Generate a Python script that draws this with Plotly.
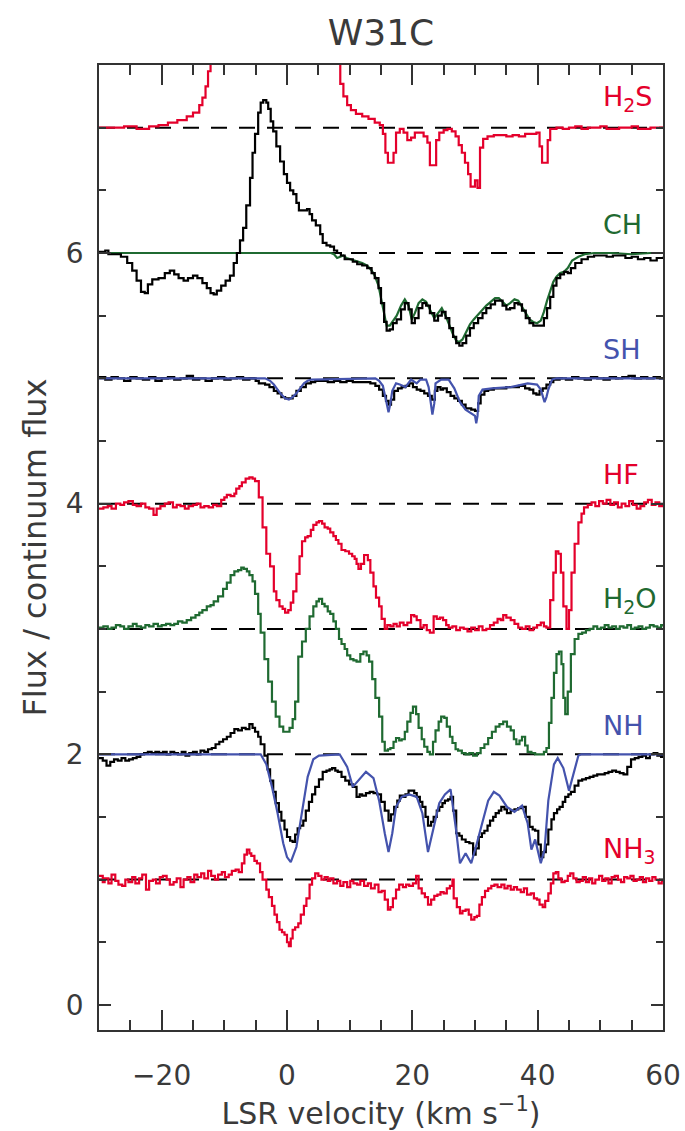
import plotly.graph_objects as go

# ---------------- data (velocity in km/s, flux / continuum + offset) ----------------
v_h2s = [-30, -28, -26, -24, -22, -20.5, -19, -17.5, -16, -15, -14, -13.5, -13, -12.6, -12.2, -11.5,
         7.5, 8.0, 8.5, 9.0, 9.6, 10.2, 11, 12, 13, 14, 14.8, 15.3, 15.7, 16.1, 16.6, 17.0, 17.4, 18.0,
         18.6, 19.2, 19.8, 20.4, 21.0, 21.8, 22.4, 22.8, 23.4, 23.8, 24.3, 25.0, 25.6, 26.3, 26.9, 27.4,
         27.9, 28.4, 28.9, 29.3, 29.8, 30.0, 30.4, 30.8, 31.3, 32.0, 33.0, 34.0, 35.0, 36.0, 37.0, 38.0,
         39.0, 39.8, 40.3, 40.7, 41.2, 41.6, 42.0, 43, 44, 45, 46, 47, 48, 50, 51, 53, 55, 56, 58, 60]
f_h2s = [7.00, 7.00, 7.01, 6.99, 7.01, 7.02, 7.04, 7.06, 7.09, 7.12, 7.18, 7.24, 7.33, 7.45, 7.7, 8.5,
         8.5, 7.55, 7.35, 7.25, 7.18, 7.14, 7.11, 7.09, 7.07, 7.04, 7.02, 6.95, 6.80, 6.72, 6.72, 6.80, 6.96, 6.99,
         6.96, 6.90, 6.92, 6.96, 6.96, 6.93, 6.88, 6.70, 6.70, 6.90, 6.96, 6.98, 6.99, 6.97, 6.93, 6.86,
         6.80, 6.72, 6.63, 6.53, 6.53, 6.58, 6.52, 6.84, 6.91, 6.93, 6.94, 6.94, 6.93, 6.94, 6.93, 6.95,
         6.95, 6.96, 6.85, 6.72, 6.72, 6.90, 6.99, 7.00, 6.99, 7.00, 7.01, 6.99, 7.00, 7.01, 6.99, 7.00, 7.01, 6.99, 7.00, 6.99]

v_ch_obs = [-30, -29, -28.5, -27.5, -26.5, -25.5, -24.7, -24, -23.3, -22.7, -22.2, -21.5, -20.5, -19.5, -18.7,
            -18, -17.3, -16.5, -15.8, -15, -14.3, -13.5, -12.8, -12.2, -11.7, -11.2, -10.5, -9.8, -9.1, -8.5,
            -8, -7.5, -7.0, -6.5, -5.9, -5.5, -5.1, -4.6, -4.2, -3.8, -3.3, -3.0, -2.6, -2.2, -1.7, -1.1, -0.5,
            0.0, 0.5, 1.0, 1.5, 1.9, 2.5, 3.2, 3.6, 4.0, 4.6, 5.3, 5.7, 6.3, 6.9, 7.5, 8.0, 8.6, 9.2, 9.8, 10.5,
            11.2, 12.0, 12.8, 13.5, 14.0, 14.6, 15.0, 15.5, 15.9, 16.4, 16.9, 17.5, 18.2, 18.8, 19.4, 19.9,
            20.4, 21.0, 21.6, 22.2, 22.8, 23.5, 24.1, 24.7, 25.3, 25.9, 26.5, 27.0, 27.5, 28.0, 28.6, 29.2,
            29.8, 30.5, 31.2, 31.8, 32.5, 33.2, 33.8, 34.4, 35.0, 35.6, 36.3, 36.9, 37.5, 38.1, 38.7, 39.3,
            39.9, 40.5, 41.0, 41.5, 42.0, 42.5, 43.0, 43.6, 44.2, 44.8, 45.3, 46, 47, 48, 49, 50, 51, 52, 53,
            54, 55, 56, 57, 58, 59, 60]
f_ch_obs = [6.01, 6.02, 5.99, 5.99, 5.97, 5.92, 5.86, 5.78, 5.69, 5.68, 5.75, 5.79, 5.80, 5.84, 5.86,
            5.83, 5.80, 5.78, 5.80, 5.82, 5.80, 5.76, 5.72, 5.68, 5.67, 5.70, 5.74, 5.78, 5.82, 5.92,
            6.0, 6.1, 6.2, 6.38, 6.6, 6.8, 6.95, 7.12, 7.2, 7.22, 7.20, 7.15, 7.05, 6.97, 6.85, 6.73, 6.63,
            6.56, 6.50, 6.47, 6.40, 6.34, 6.34, 6.35, 6.31, 6.26, 6.22, 6.15, 6.08, 6.06, 6.05, 6.02, 6.00,
            5.98, 5.95, 5.95, 5.93, 5.91, 5.90, 5.88, 5.84, 5.80, 5.72, 5.60, 5.45, 5.38, 5.39, 5.44, 5.47,
            5.55, 5.60, 5.55, 5.44, 5.48, 5.56, 5.60, 5.58, 5.52, 5.46, 5.50, 5.53, 5.48, 5.40, 5.33, 5.28,
            5.26, 5.28, 5.34, 5.40, 5.44, 5.48, 5.52, 5.56, 5.59, 5.62, 5.62, 5.58, 5.55, 5.56, 5.60, 5.59,
            5.54, 5.48, 5.44, 5.42, 5.42, 5.42, 5.48, 5.56, 5.65, 5.74, 5.80, 5.83, 5.85, 5.84, 5.88, 5.92,
            5.95, 5.97, 5.98, 5.98, 5.97, 5.98, 5.98, 5.96, 5.97, 5.95, 5.96, 5.94, 5.96, 5.97]

v_ch_mod = [-30, 7.0, 7.5, 8.0, 8.5, 9.0, 9.5, 10.2, 11, 12, 12.8, 13.5, 14.0, 14.6, 15.0, 15.5, 15.9, 16.4,
            16.9, 17.5, 18.2, 18.8, 19.4, 19.9, 20.4, 21.0, 21.6, 22.2, 22.8, 23.5, 24.1, 24.7, 25.3, 25.9,
            26.5, 27.0, 27.5, 28.0, 28.6, 29.2, 29.8, 30.5, 31.2, 31.8, 32.5, 33.2, 33.8, 34.4, 35.0, 35.6,
            36.3, 36.9, 37.5, 38.1, 38.7, 39.3, 39.9, 40.5, 41.0, 41.5, 42.0, 42.5, 43.0, 43.6, 44.2, 44.8,
            45.5, 46.5, 47.5, 49, 52, 55, 58, 60]
f_ch_mod = [6.00, 6.00, 5.99, 5.96, 5.97, 5.98, 5.96, 5.95, 5.94, 5.92, 5.90, 5.86, 5.82, 5.74, 5.64, 5.50,
            5.42, 5.42, 5.46, 5.50, 5.58, 5.63, 5.58, 5.47, 5.52, 5.60, 5.63, 5.61, 5.55, 5.48, 5.52, 5.56,
            5.50, 5.42, 5.35, 5.30, 5.29, 5.31, 5.37, 5.43, 5.47, 5.51, 5.55, 5.58, 5.61, 5.64, 5.64, 5.61,
            5.58, 5.60, 5.63, 5.62, 5.57, 5.52, 5.47, 5.45, 5.44, 5.46, 5.53, 5.62, 5.70, 5.77, 5.81, 5.84,
            5.85, 5.88, 5.94, 5.97, 5.99, 6.00, 6.00, 5.99, 6.00, 6.00]

v_sh_obs = [-30, -29, -28, -27, -26, -25, -24, -23, -22, -21, -20, -19, -18, -17, -16, -15, -14, -13, -12,
            -11, -10, -9, -8, -7, -6, -5, -4.5, -3.5, -2.8, -2.1, -1.5, -0.9, -0.3, 0.3, 0.9, 1.5, 2.2, 3.0,
            3.8, 4.5, 5.5, 6.5, 7.5, 8.5, 9.5, 10.5, 11.5, 12.5, 13.3, 14.1, 14.7, 15.3, 15.8, 16.2, 16.6,
            17.1, 17.7, 18.3, 18.9, 19.5, 20.1, 20.7, 21.3, 21.9, 22.5, 23.1, 23.6, 24.0, 24.5, 24.9, 25.5,
            26.1, 26.7, 27.3, 27.9, 28.5, 29.0, 29.4, 30.0, 30.5, 30.9, 31.5, 32.1, 33, 34, 35, 36, 37, 38,
            38.7, 39.3, 39.8, 40.3, 40.8, 41.4, 42.0, 42.5, 43.5, 44.5, 45.5, 46.5, 47.5, 48.5, 49.5, 50.5,
            51.5, 52.5, 53.5, 54.5, 55.5, 56.5, 57.5, 58.5, 59.5, 60]
f_sh_obs = [5.01, 4.99, 5.01, 5.00, 4.98, 5.01, 5.00, 4.99, 5.01, 4.98, 5.00, 5.01, 4.99, 5.00, 5.02, 4.99,
            5.00, 4.98, 5.00, 5.01, 4.99, 5.00, 5.01, 4.99, 5.00, 4.98, 4.96, 4.95, 4.93, 4.90, 4.88, 4.85,
            4.84, 4.84, 4.86, 4.90, 4.93, 4.96, 4.97, 4.98, 4.98, 4.97, 4.98, 4.97, 4.98, 4.97, 4.97, 4.97,
            4.96, 4.94, 4.91, 4.86, 4.82, 4.79, 4.83, 4.90, 4.92, 4.93, 4.94, 4.96, 4.93, 4.91, 4.90, 4.88,
            4.86, 4.83, 4.90, 4.93, 4.91, 4.92, 4.89, 4.86, 4.84, 4.82, 4.79, 4.76, 4.76, 4.75, 4.74, 4.80,
            4.87, 4.90, 4.91, 4.92, 4.92, 4.93, 4.93, 4.94, 4.92, 4.91, 4.88, 4.87, 4.90, 4.92, 4.95, 4.97,
            4.99, 5.00, 4.99, 5.01, 5.00, 4.99, 5.01, 5.00, 4.99, 5.01, 5.00, 5.01, 5.02, 5.00, 5.01, 5.00,
            5.01, 5.00, 5.01]

v_sh_mod = [-30, -3.5, -2.7, -2.1, -1.5, -0.9, -0.3, 0.3, 0.9, 1.5, 2.1, 2.7, 3.3, 3.9, 14.1, 14.7, 15.3,
            15.6, 15.9, 16.2, 16.5, 16.8, 17.4, 18.0, 18.9, 19.8, 20.4, 20.7, 21.3, 22.2, 22.6, 22.9, 23.2,
            23.5, 23.7, 24.6, 25.8, 26.7, 27.6, 28.5, 29.1, 29.7, 30.0, 30.2, 30.4, 30.6, 31.2, 32.7, 35.7,
            38.4, 39.9, 40.5, 40.8, 41.1, 41.4, 41.7, 42.3, 43, 60]
f_sh_mod = [5.00, 5.00, 4.98, 4.95, 4.91, 4.87, 4.84, 4.83, 4.85, 4.88, 4.92, 4.96, 4.98, 4.99, 5.00, 4.98,
            4.94, 4.88, 4.80, 4.73, 4.80, 4.90, 4.96, 4.95, 4.93, 4.99, 4.97, 4.96, 4.99, 4.99, 4.93, 4.80,
            4.71, 4.80, 4.96, 4.99, 4.99, 4.92, 4.81, 4.75, 4.73, 4.71, 4.70, 4.64, 4.70, 4.86, 4.91, 4.92,
            4.93, 4.96, 4.95, 4.91, 4.85, 4.81, 4.85, 4.91, 4.99, 5.00, 5.00]

v_hf = [-30, -29.3, -28.6, -28, -27.3, -26.6, -26, -25.3, -24.6, -24, -23.3, -22.6, -22, -21.3, -20.8,
        -20.2, -19.5, -18.9, -18.2, -17.6, -17, -16.3, -15.7, -15, -14.4, -13.8, -13.2, -12.5, -11.8, -11.2,
        -10.5, -10, -9.6, -9, -8.4, -8.1, -7.6, -7.2, -6.6, -6.0, -5.5, -5.1, -4.5, -3.9, -3.3, -2.7, -2.1,
        -1.7, -1.2, -0.7, -0.3, 0.2, 0.6, 1.0, 1.5, 2.0, 2.4, 2.9, 3.3, 3.8, 4.2, 4.7, 5.1, 5.6, 6.0, 6.5,
        6.9, 7.4, 7.8, 8.2, 8.7, 9.3, 9.9, 10.4, 10.8, 11.1, 11.4, 11.8, 12.3, 12.9, 13.3, 13.8, 14.2, 14.7,
        15.1, 15.6, 16.0, 16.5, 17.0, 17.5, 18.0, 18.6, 19.2, 19.8, 20.3, 20.7, 21.3, 21.8, 22.3, 22.8,
        23.4, 23.9, 24.4, 24.9, 25.4, 25.8, 26.4, 27, 27.6, 28.2, 28.8, 29.4, 30, 30.6, 31.2, 31.8, 32.4,
        33.0, 33.6, 34.1, 34.5, 35.0, 35.7, 36.3, 36.9, 37.5, 38.1, 38.7, 39.3, 39.9, 40.5, 41.0, 41.4,
        42.0, 42.5, 42.9, 43.3, 43.7, 44.1, 44.6, 45.0, 45.4, 45.9, 46.5, 47.0, 47.4, 48.0, 48.6, 49.2,
        49.8, 50.4, 51, 51.6, 52.2, 52.8, 53.4, 54, 54.6, 55.2, 55.8, 56.4, 57, 57.6, 58.2, 58.8, 59.4, 60]
f_hf = [3.96, 3.97, 3.98, 3.96, 4.00, 3.99, 4.01, 4.02, 3.99, 3.98, 4.00, 3.97, 3.96, 3.91, 3.96,
        3.98, 4.00, 4.01, 3.97, 3.99, 3.98, 3.96, 3.98, 3.99, 4.00, 3.97, 3.98, 3.97, 3.99, 3.98,
        4.03, 4.05, 4.07, 4.06, 4.08, 4.12, 4.14, 4.17, 4.20, 4.21, 4.20, 4.18, 4.05, 3.81, 3.60, 3.50, 3.30,
        3.23, 3.18, 3.16, 3.13, 3.15, 3.21, 3.30, 3.44, 3.58, 3.70, 3.73, 3.74, 3.79, 3.83, 3.85, 3.86, 3.84,
        3.81, 3.80, 3.77, 3.74, 3.71, 3.68, 3.63, 3.62, 3.60, 3.58, 3.56, 3.52, 3.48, 3.52, 3.59, 3.55, 3.45,
        3.34, 3.25, 3.18, 3.08, 3.00, 3.03, 3.02, 3.04, 3.02, 3.05, 3.03, 3.05, 3.11, 3.10, 3.07, 3.01, 3.03,
        2.99, 2.97, 3.10, 3.08, 3.09, 3.07, 3.03, 3.01, 3.02, 2.99, 3.01, 3.00, 2.98, 3.01, 2.99, 3.02, 2.99,
        3.00, 3.03, 3.05, 3.08, 3.07, 3.11, 3.09, 3.07, 3.04, 3.01, 3.00, 3.02, 2.99, 3.01, 3.03, 3.05, 3.02,
        3.01, 3.23, 3.45, 3.62, 3.60, 3.45, 3.18, 3.00, 3.15, 3.45, 3.68, 3.85, 3.92, 3.97, 3.99, 4.01, 3.98,
        4.02, 4.00, 4.03, 3.99, 4.01, 3.97, 4.00, 3.98, 4.02, 3.99, 3.96, 3.98, 4.01, 4.03, 3.99, 4.01, 3.98, 4.00]

v_h2o = [-30, -29.3, -28.6, -28, -27.3, -26.6, -26, -25.3, -24.6, -24, -23.3, -22.6, -22, -21.3, -20.6,
         -20, -19.3, -18.6, -18, -17.4, -16.7, -16, -15.3, -14.6, -14, -13.5, -12.8, -12.2, -11.7, -11.0,
         -10.2, -9.6, -9.0, -8.4, -7.8, -7.3, -6.9, -6.4, -6.0, -5.5, -5.1, -4.6, -4.2, -3.6, -3.0, -2.4,
         -1.8, -1.2, -0.6, 0, 0.4, 0.9, 1.3, 1.8, 2.4, 3.0, 3.6, 4.2, 4.7, 5.1, 5.6, 6.0, 6.5, 6.9, 7.4, 7.8,
         8.3, 8.7, 9.2, 9.6, 10.1, 10.6, 11.1, 11.7, 12.2, 12.7, 13.1, 13.6, 14.1, 14.7, 15.2, 15.6, 16.1,
         16.5, 17.0, 17.4, 17.9, 18.3, 18.8, 19.2, 19.7, 20.1, 20.6, 21.0, 21.5, 21.9, 22.4, 22.8, 23.3, 23.7,
         24.2, 24.6, 25.1, 25.5, 26.0, 26.4, 26.9, 27.3, 27.9, 28.5, 29.1, 29.7, 30.3, 30.9, 31.5, 32.1,
         32.7, 33.3, 33.9, 34.5, 35.1, 35.7, 36.2, 36.6, 37.1, 37.5, 38.0, 38.4, 39.0, 39.6, 40.5, 41.0,
         41.4, 41.8, 42.2, 42.6, 43.0, 43.4, 43.8, 44.1, 44.4, 44.8, 45.3, 45.9, 46.5, 47.1, 47.7, 48.3,
         48.9, 49.5, 50.1, 50.7, 51.3, 51.9, 52.5, 53.1, 53.7, 54.3, 54.9, 55.5, 56.1, 56.7, 57.3, 57.9,
         58.5, 59.1, 59.7, 60]
f_h2o = [3.01, 3.02, 3.00, 3.01, 3.03, 3.02, 3.00, 3.02, 3.04, 3.02, 3.01, 3.03, 3.02, 3.04, 3.02,
         3.03, 3.04, 3.03, 3.04, 3.06, 3.05, 3.07, 3.09, 3.11, 3.13, 3.15, 3.18, 3.19, 3.22, 3.26,
         3.32, 3.37, 3.43, 3.46, 3.47, 3.49, 3.48, 3.46, 3.43, 3.38, 3.28, 3.12, 2.97, 2.76, 2.58, 2.42,
         2.30, 2.22, 2.18, 2.18, 2.21, 2.28, 2.42, 2.78, 2.90, 3.00, 3.10, 3.18, 3.22, 3.24, 3.20, 3.18, 3.14,
         3.12, 3.06, 3.00, 2.92, 2.88, 2.84, 2.79, 2.76, 2.75, 2.74, 2.80, 2.82, 2.79, 2.74, 2.60, 2.45, 2.30,
         2.10, 2.03, 2.04, 2.05, 2.10, 2.13, 2.11, 2.12, 2.18, 2.26, 2.33, 2.38, 2.32, 2.21, 2.12, 2.06, 2.02,
         2.00, 2.10, 2.19, 2.26, 2.30, 2.29, 2.22, 2.14, 2.09, 2.04, 2.03, 2.01, 2.00, 2.01, 1.99, 2.01, 2.05,
         2.08, 2.13, 2.18, 2.22, 2.24, 2.26, 2.22, 2.19, 2.12, 2.08, 2.11, 2.14, 2.07, 2.02, 2.01, 2.00, 2.00,
         2.02, 2.05, 2.25, 2.45, 2.65, 2.80, 2.82, 2.72, 2.45, 2.32, 2.50, 2.80, 2.92, 2.96, 2.97, 2.99, 3.00,
         3.02, 3.00, 3.01, 3.03, 3.01, 3.02, 3.00, 3.02, 3.01, 3.03, 3.00, 3.01, 3.02, 3.00, 3.01, 3.03,
         3.02, 3.01, 3.03, 3.02]

v_nh_obs = [-30, -29.4, -28.8, -28.2, -27.6, -27, -26.4, -25.8, -25.2, -24.6, -24, -23.4, -22.8, -22.2,
            -21.6, -21, -20.4, -19.8, -19.2, -18.6, -18, -17.4, -16.8, -16.2, -15.6, -15, -14.4, -13.8,
            -13.2, -12.6, -12, -11.4, -10.8, -10.2, -9.6, -9.0, -8.4, -7.8, -7.2, -6.6, -6.0, -5.5, -5.1,
            -4.6, -4.2, -3.6, -3.1, -2.7, -2.2, -1.8, -1.3, -0.9, -0.4, 0, 0.5, 0.9, 1.3, 1.7, 2.1, 2.6, 3.0,
            3.5, 4.0, 4.5, 5.1, 5.7, 6.3, 6.8, 7.2, 7.7, 8.1, 8.7, 9.3, 9.9, 10.5, 11.1, 11.6, 12.0, 12.6,
            13.2, 13.8, 14.4, 15.0, 15.6, 16.2, 16.6, 17.1, 17.6, 18.0, 18.5, 18.9, 19.4, 19.8, 20.3, 20.7,
            21.2, 21.6, 22.1, 22.5, 23.0, 23.4, 23.9, 24.3, 24.8, 25.2, 25.7, 26.1, 26.5, 27.0, 27.5, 27.9,
            28.5, 29.1, 29.7, 30.1, 30.6, 31.1, 31.5, 32.0, 32.4, 32.9, 33.3, 33.8, 34.2, 34.7, 35.1, 35.7,
            36.3, 36.9, 37.5, 38.1, 38.7, 39.2, 39.6, 40.1, 40.5, 40.9, 41.3, 41.7, 42.2, 42.6, 43.1, 43.5,
            44.0, 44.4, 44.9, 45.3, 45.9, 46.5, 47.1, 47.7, 48.3, 48.9, 49.5, 50.1, 50.7, 51.3, 51.9, 52.5,
            53.1, 53.7, 54.3, 54.9, 55.5, 56.1, 56.7, 57.3, 57.9, 58.5, 59.1, 59.7, 60]
f_nh_obs = [1.97, 1.95, 1.91, 1.94, 1.96, 1.95, 1.97, 1.95, 1.96, 1.97, 1.98, 2.00, 2.01, 2.02,
            2.01, 2.02, 2.01, 2.02, 2.00, 2.02, 2.01, 2.00, 2.02, 1.99, 2.01, 2.02, 2.00, 2.03,
            2.02, 2.04, 2.05, 2.08, 2.10, 2.12, 2.14, 2.17, 2.20, 2.19, 2.21, 2.20, 2.24, 2.21, 2.18,
            2.14, 2.08, 1.99, 1.88, 1.79, 1.70, 1.61, 1.54, 1.47, 1.40, 1.34, 1.31, 1.30, 1.36, 1.41, 1.43,
            1.47, 1.55, 1.62, 1.68, 1.74, 1.80, 1.86, 1.87, 1.88, 1.89, 1.87, 1.86, 1.82, 1.79, 1.76, 1.74,
            1.66, 1.68, 1.67, 1.69, 1.70, 1.69, 1.68, 1.62, 1.55, 1.47, 1.52, 1.58, 1.63, 1.67, 1.66, 1.68,
            1.71, 1.71, 1.69, 1.66, 1.62, 1.58, 1.50, 1.43, 1.46, 1.50, 1.55, 1.58, 1.61, 1.63, 1.64, 1.66,
            1.55, 1.37, 1.35, 1.32, 1.30, 1.29, 1.20, 1.25, 1.34, 1.37, 1.39, 1.43, 1.47, 1.50, 1.53, 1.55,
            1.58, 1.56, 1.53, 1.55, 1.56, 1.57, 1.58, 1.50, 1.42, 1.40, 1.39, 1.28, 1.18, 1.22, 1.28, 1.40,
            1.48, 1.53, 1.56, 1.58, 1.62, 1.66, 1.68, 1.70, 1.75, 1.79, 1.80, 1.81, 1.82, 1.83, 1.84, 1.84,
            1.85, 1.86, 1.87, 1.86, 1.85, 1.84, 1.90, 1.96, 1.97, 1.98, 1.99, 1.97, 2.00, 2.01, 1.99, 1.98, 2.00]

v_nh_mod = [-30, -4.2, -3.3, -2.4, -1.5, -0.6, 0, 0.6, 1.5, 2.4, 3.3, 4.2, 5.1, 8.4, 9.6, 10.5, 11.4, 12.6,
            13.8, 14.7, 15.6, 16.2, 16.8, 17.4, 18.3, 19.5, 20.7, 21.6, 22.5, 23.4, 24.3, 25.2, 26.1, 27.0,
            27.6, 28.5, 29.4, 30.3, 31.2, 32.1, 33.0, 33.9, 35.1, 36.3, 37.5, 38.4, 39.0, 39.6, 40.5, 41.1,
            41.7, 42.6, 43.2, 44.1, 45.0, 45.9, 46.5, 47, 60]
f_nh_mod = [2.00, 2.00, 1.92, 1.74, 1.53, 1.29, 1.18, 1.14, 1.26, 1.55, 1.82, 1.96, 1.99, 2.00, 1.90, 1.74,
            1.79, 1.86, 1.81, 1.63, 1.37, 1.22, 1.37, 1.58, 1.66, 1.68, 1.66, 1.53, 1.22, 1.42, 1.61, 1.68,
            1.72, 1.39, 1.13, 1.21, 1.13, 1.29, 1.47, 1.63, 1.70, 1.67, 1.58, 1.54, 1.59, 1.45, 1.24, 1.32,
            1.13, 1.24, 1.63, 1.92, 1.97, 1.89, 1.71, 1.89, 1.99, 2.00, 2.00]

v_nh3 = [-30, -29.4, -29.1, -28.5, -28.0, -27.4, -26.9, -26.3, -25.8, -25.3, -24.7, -24.2, -23.6, -23.1,
         -22.5, -22.0, -21.4, -20.9, -20.3, -19.8, -19.2, -18.7, -18.1, -17.6, -17.0, -16.5, -15.9, -15.4,
         -14.8, -14.3, -13.7, -13.2, -12.6, -12.1, -11.5, -11.0, -10.4, -9.9, -9.3, -8.8, -8.2, -7.7, -7.2,
         -6.8, -6.4, -6.0, -5.7, -5.2, -4.8, -4.3, -3.9, -3.3, -2.9, -2.4, -2.0, -1.6, -1.2, -0.8, -0.4, 0,
         0.3, 0.6, 0.9, 1.3, 1.8, 2.2, 2.7, 3.1, 3.6, 4.0, 4.5, 5.0, 5.5, 6.0, 6.5, 6.9, 7.4, 8.0, 8.5, 9.0,
         9.6, 10.1, 10.6, 11.2, 11.7, 12.3, 12.9, 13.4, 14.0, 14.6, 15.1, 15.6, 16.1, 16.5, 16.9, 17.4, 17.9,
         18.5, 19.0, 19.5, 20.1, 20.6, 21.0, 21.5, 22.0, 22.5, 23.0, 23.5, 24.0, 24.5, 25.0, 25.5, 26.0,
         26.4, 26.6, 27.1, 27.6, 28.0, 28.5, 29.0, 29.4, 29.9, 30.3, 30.7, 31.1, 31.6, 32.1, 32.6, 33.1,
         33.6, 34.2, 34.7, 35.2, 35.7, 36.2, 36.7, 37.3, 37.8, 38.3, 38.9, 39.4, 39.9, 40.3, 40.8, 41.2,
         41.7, 42.1, 42.5, 42.9, 43.3, 43.8, 44.3, 44.8, 45.2, 45.7, 46.2, 46.7, 47.2, 47.7, 48.2, 48.7,
         49.2, 49.8, 50.3, 50.8, 51.3, 51.8, 52.3, 52.8, 53.3, 53.8, 54.3, 54.8, 55.3, 55.8, 56.3, 56.8,
         57.3, 57.8, 58.3, 58.8, 59.3, 59.8, 60]
f_nh3 = [1.03, 0.98, 1.01, 0.97, 1.04, 0.99, 0.96, 0.95, 1.00, 0.98, 1.02, 0.97, 1.01, 1.04,
         0.92, 0.99, 1.00, 0.97, 1.02, 1.03, 1.00, 0.96, 0.98, 1.01, 0.94, 1.00, 1.02, 0.98,
         1.04, 1.02, 1.05, 1.01, 1.07, 1.03, 1.00, 1.04, 1.06, 1.02, 1.04, 1.07, 1.08, 1.06, 1.13,
         1.20, 1.24, 1.21, 1.19, 1.15, 1.13, 1.06, 1.00, 0.92, 0.86, 0.79, 0.72, 0.66, 0.60, 0.58, 0.56, 0.50,
         0.47, 0.53, 0.60, 0.62, 0.65, 0.72, 0.79, 0.85, 0.96, 1.01, 1.05, 1.03, 1.00, 1.02, 0.99, 1.01, 0.97,
         0.99, 0.95, 0.98, 0.94, 0.99, 0.97, 0.96, 0.99, 0.95, 0.97, 0.93, 0.96, 0.90, 0.91, 0.84, 0.76, 0.78,
         0.85, 0.92, 0.96, 0.94, 0.96, 0.95, 0.97, 1.03, 0.93, 0.89, 0.86, 0.80, 0.84, 0.87, 0.88, 0.90, 0.89,
         0.93, 0.95, 1.00, 0.85, 0.78, 0.73, 0.75, 0.76, 0.72, 0.68, 0.70, 0.71, 0.80, 0.86, 0.91, 0.93, 0.95,
         0.96, 0.94, 0.96, 0.93, 0.95, 0.92, 0.94, 0.92, 0.90, 0.93, 0.88, 0.89, 0.85, 0.84, 0.80, 0.78, 0.83,
         0.89, 0.97, 1.05, 1.06, 1.01, 0.98, 0.99, 1.03, 1.05, 1.01, 0.98, 0.99, 1.02, 0.98, 1.01, 0.97,
         1.00, 1.03, 0.99, 1.01, 0.97, 1.02, 1.03, 1.00, 0.98, 1.02, 1.01, 1.03, 0.99, 1.00, 1.02, 0.98,
         1.01, 0.99, 1.02, 1.00, 0.97, 0.99, 0.98]

baselines = [1, 2, 3, 4, 5, 6, 7]
species_labels = ["H<sub>2</sub>S", "CH", "SH", "HF", "H<sub>2</sub>O", "NH", "NH<sub>3</sub>"]
label_levels = [7, 6, 5, 4, 3, 2, 1]

# ---------------- styling ----------------
RED = "#e4002b"
GREEN = "#1f6a31"
BLUE = "#4453ad"
BLACK = "#000000"
TXT = "#3a3a3a"
label_colors = [RED, GREEN, BLUE, RED, GREEN, BLUE, RED]
FONT = "DejaVu Sans"
LW = 2.2

fig = go.Figure()

for b in baselines:
    fig.add_trace(go.Scatter(x=[-30, 60], y=[b, b], mode="lines",
                             line=dict(color=BLACK, width=2, dash="16px,12px"),
                             hoverinfo="skip", showlegend=False))

def spec(x, y, color, shape="hv"):
    fig.add_trace(go.Scatter(x=x, y=y, mode="lines", line=dict(color=color, width=LW, shape=shape),
                             showlegend=False))

spec(v_h2s, f_h2s, RED)
spec(v_ch_mod, f_ch_mod, GREEN, "linear")
spec(v_ch_obs, f_ch_obs, BLACK)
spec(v_sh_obs, f_sh_obs, BLACK)
spec(v_sh_mod, f_sh_mod, BLUE, "linear")
spec(v_hf, f_hf, RED)
spec(v_h2o, f_h2o, GREEN)
spec(v_nh_obs, f_nh_obs, BLACK)
spec(v_nh_mod, f_nh_mod, BLUE, "linear")
spec(v_nh3, f_nh3, RED)

for txt, lev, col in zip(species_labels, label_levels, label_colors):
    fig.add_annotation(x=50.1, y=lev + 0.23, text=txt, showarrow=False, xanchor="left", yanchor="middle",
                       font=dict(family=FONT, size=27, color=col))

axis_common = dict(showline=True, linecolor="#333333", linewidth=1.5, mirror="ticks", ticks="inside",
                   tickcolor="#333333", tickwidth=1.5, showgrid=False, zeroline=False, automargin=False,
                   tickfont=dict(family=FONT, size=28, color=TXT))

fig.update_xaxes(range=[-30, 60], dtick=20, tick0=0, ticklen=20, ticklabelstandoff=20,
                 minor=dict(dtick=5, ticks="inside", ticklen=10, tickcolor="#333333", tickwidth=1.5),
                 title=dict(text="LSR velocity (km s<sup>−1</sup>)", font=dict(family=FONT, size=30, color=TXT),
                            standoff=4),
                 **axis_common)
fig.update_yaxes(range=[-0.2, 7.5], tickvals=[0, 2, 4, 6], ticklen=12, ticklabelstandoff=8,
                 minor=dict(dtick=0.5, tick0=0, ticks="inside", ticklen=7, tickcolor="#333333", tickwidth=1.5),
                 title=dict(text="Flux / continuum flux", font=dict(family=FONT, size=32, color=TXT),
                            standoff=10),
                 **axis_common)

fig.update_layout(
    width=685, height=1131,
    margin=dict(l=99, r=22, t=65, b=101),
    paper_bgcolor="white", plot_bgcolor="white",
    title=dict(text="W31C", x=0.5, xref="paper", y=1 - 32 / 1131, yref="container", yanchor="middle",
               xanchor="center", font=dict(family=FONT, size=36, color=TXT)),
    showlegend=False,
)

fig.write_html("out.html")
